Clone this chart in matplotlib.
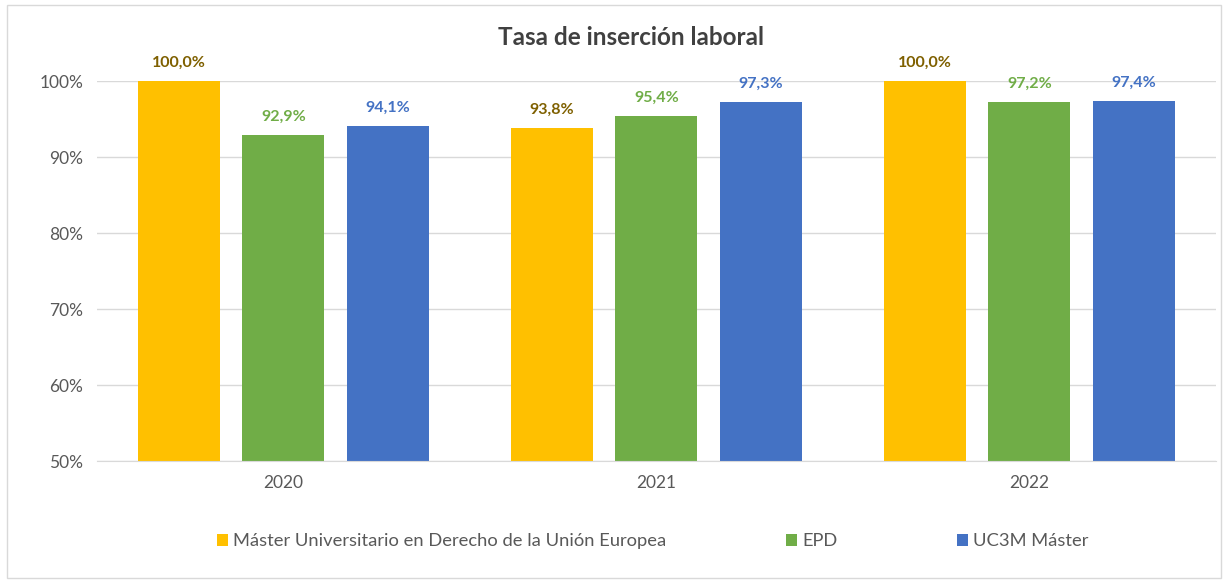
import matplotlib.pyplot as plt
import numpy as np
from matplotlib.patches import Rectangle
from matplotlib.ticker import FuncFormatter

years = ["2020", "2021", "2022"]
series_names = ["Máster Universitario en Derecho de la Unión Europea", "EPD", "UC3M Máster"]
master_ue = [100.0, 93.8, 100.0]
epd = [92.9, 95.4, 97.2]
uc3m = [94.1, 97.3, 97.4]

bar_colors = ["#FFC000", "#70AD47", "#4472C4"]
label_colors = ["#7F6000", "#70AD47", "#4472C4"]

plt.rcParams['font.family'] = ['Lato', 'DejaVu Sans']

fig = plt.figure(figsize=(12.27, 5.81), dpi=100)
fig.patches.append(Rectangle((0.006, 0.005), 0.989, 0.987, transform=fig.transFigure,
                             fill=False, edgecolor="#D9D9D9", linewidth=1))
ax = fig.add_axes([0.079, 0.2065, 0.912, 0.654])

x = np.arange(len(years))
width = 0.22
offset = 0.28
for i, (vals, name) in enumerate(zip([master_ue, epd, uc3m], series_names)):
    pos = x + (i - 1) * offset
    bars = ax.bar(pos, vals, width, color=bar_colors[i], label=name, zorder=2)
    for b, v in zip(bars, vals):
        ax.annotate(f"{v:.1f}%".replace(".", ","), (b.get_x() + b.get_width() / 2, v),
                    xytext=(0, 8), textcoords="offset points", ha="center", va="bottom",
                    fontsize=11.5, fontweight="bold", color=label_colors[i])

ax.set_ylim(50, 100)
ax.set_xlim(-0.5, 2.5)
ax.set_yticks([50, 60, 70, 80, 90, 100])
ax.yaxis.set_major_formatter(FuncFormatter(lambda v, p: f"{v:.0f}%"))
ax.set_xticks(x)
ax.set_xticklabels(years)
ax.grid(axis="y", color="#D9D9D9", linewidth=1, zorder=0)
for s in ["top", "right", "left"]:
    ax.spines[s].set_visible(False)
ax.spines["bottom"].set_color("#D9D9D9")
ax.tick_params(length=0, labelsize=12.5, colors="#595959", pad=10)

fig.suptitle("Tasa de inserción laboral", x=0.514, y=0.955, fontsize=17.5,
             fontweight="bold", color="#404040")

fig.legend(loc="center", bbox_to_anchor=(0.532, 0.068), ncol=3, frameon=False,
           fontsize=13.2, labelcolor="#595959", handlelength=0.6, handleheight=0.6,
           handletextpad=0.3, columnspacing=6.5)

fig.savefig("out.png", dpi=100)
